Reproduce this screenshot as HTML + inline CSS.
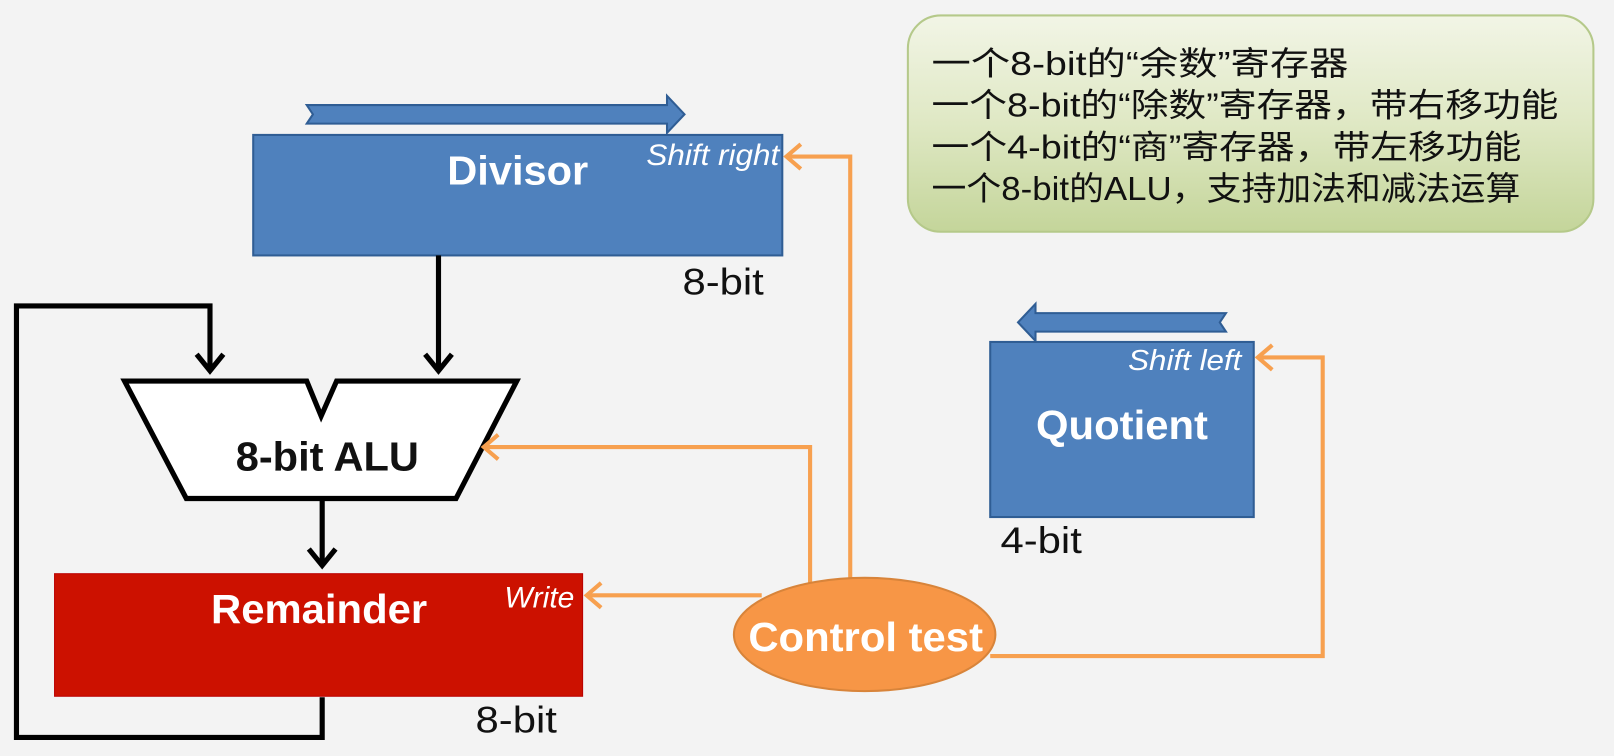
<!DOCTYPE html>
<html><head><meta charset="utf-8"><style>
html,body{margin:0;padding:0;background:#f3f3f3;}
svg{display:block;}
</style></head><body>
<svg width="1614" height="756" viewBox="0 0 1568 734" preserveAspectRatio="none" xmlns="http://www.w3.org/2000/svg">
<defs>
<linearGradient id="g" x1="0" y1="0" x2="0" y2="1">
<stop offset="0" stop-color="#f2f5e6"/><stop offset="0.5" stop-color="#dfe8c4"/><stop offset="1" stop-color="#c4d59a"/>
</linearGradient>
</defs>
<rect width="1568" height="734" fill="#f3f3f3"/>
<rect x="882" y="15" width="666" height="210" rx="32" fill="url(#g)" stroke="#b5c98a" stroke-width="2"/>
<g font-family="Liberation Sans, Noto Sans CJK SC, sans-serif" font-size="32" fill="#111" lengthAdjust="spacingAndGlyphs">
<text x="905" y="73" textLength="405" lengthAdjust="spacingAndGlyphs">一个8-bit的“余数”寄存器</text>
<text x="905" y="113" textLength="609" lengthAdjust="spacingAndGlyphs">一个8-bit的“除数”寄存器，带右移功能</text>
<text x="905" y="154" textLength="573" lengthAdjust="spacingAndGlyphs">一个4-bit的“商”寄存器，带左移功能</text>
<text x="905" y="194" textLength="572" lengthAdjust="spacingAndGlyphs">一个8-bit的ALU，支持加法和减法运算</text>
</g>
<polygon points="298,102 648,102 648,93 665,111 648,129 648,120 298,120 304,111" fill="#4f81bd" stroke="#2f5d94" stroke-width="2"/>
<rect x="246" y="131" width="514" height="117" fill="#4f81bd" stroke="#2f5d94" stroke-width="2"/>
<g font-family="Liberation Sans, sans-serif">
<text x="503" y="179" text-anchor="middle" font-weight="bold" font-size="40" fill="#fff" textLength="137" lengthAdjust="spacingAndGlyphs">Divisor</text>
<text x="757" y="160" text-anchor="end" font-style="italic" font-size="29" fill="#fff" textLength="129" lengthAdjust="spacingAndGlyphs">Shift right</text>
<text x="663" y="286" font-size="36" fill="#111" textLength="79" lengthAdjust="spacingAndGlyphs">8-bit</text>
</g>
<g stroke="#000" stroke-width="5" fill="none">
<path d="M426,248 V360"/>
<path d="M413,344 L426,360 L439,344"/>
<path d="M313,677 V716 H16 V297 H204 V360"/>
<path d="M191,344 L204,360 L217,344"/>
<path d="M313,484 V548"/>
<path d="M300,533 L313,549 L326,533"/>
</g>
<polygon points="121,370 298,370 312,404 327,370 502,370 443,484 181,484" fill="#fff" stroke="#000" stroke-width="5"/>
<g font-family="Liberation Sans, sans-serif">
<text x="318" y="457" text-anchor="middle" font-weight="bold" font-size="40" fill="#111" textLength="178" lengthAdjust="spacingAndGlyphs">8-bit ALU</text>
</g>
<rect x="53" y="557" width="513" height="119" fill="#cc1100" stroke="#b00" stroke-width="1"/>
<g font-family="Liberation Sans, sans-serif">
<text x="310" y="605" text-anchor="middle" font-weight="bold" font-size="40" fill="#fff" textLength="210" lengthAdjust="spacingAndGlyphs">Remainder</text>
<text x="558" y="590" text-anchor="end" font-style="italic" font-size="29" fill="#fff" textLength="68" lengthAdjust="spacingAndGlyphs">Write</text>
<text x="462" y="711" font-size="36" fill="#111" textLength="79" lengthAdjust="spacingAndGlyphs">8-bit</text>
</g>
<polygon points="1191,304 1006,304 1006,295 989,313 1006,331 1006,322 1191,322 1185,313" fill="#4f81bd" stroke="#2f5d94" stroke-width="2"/>
<rect x="962" y="332" width="256" height="170" fill="#4f81bd" stroke="#2f5d94" stroke-width="2"/>
<g font-family="Liberation Sans, sans-serif">
<text x="1206" y="359" text-anchor="end" font-style="italic" font-size="28" fill="#fff" textLength="110" lengthAdjust="spacingAndGlyphs">Shift left</text>
<text x="1090" y="426" text-anchor="middle" font-weight="bold" font-size="40" fill="#fff" textLength="167" lengthAdjust="spacingAndGlyphs">Quotient</text>
<text x="972" y="537" font-size="36" fill="#111" textLength="79" lengthAdjust="spacingAndGlyphs">4-bit</text>
</g>
<g stroke="#f7a04f" stroke-width="4" fill="none">
<path d="M826,562 V152 H764"/>
<path d="M778,140 L764,152 L778,164"/>
<path d="M787,566 V434 H470"/>
<path d="M484,422 L470,434 L484,446"/>
<path d="M740,578 H570"/>
<path d="M584,566 L570,578 L584,590"/>
<path d="M962,637 H1285 V347 H1222"/>
<path d="M1236,335 L1222,347 L1236,359"/>
</g>
<ellipse cx="840" cy="616" rx="127" ry="55" fill="#f79646" stroke="#d8843a" stroke-width="2"/>
<text x="841" y="632" text-anchor="middle" font-family="Liberation Sans, sans-serif" font-weight="bold" font-size="40" fill="#fff" textLength="228" lengthAdjust="spacingAndGlyphs">Control test</text>
</svg>
</body></html>
